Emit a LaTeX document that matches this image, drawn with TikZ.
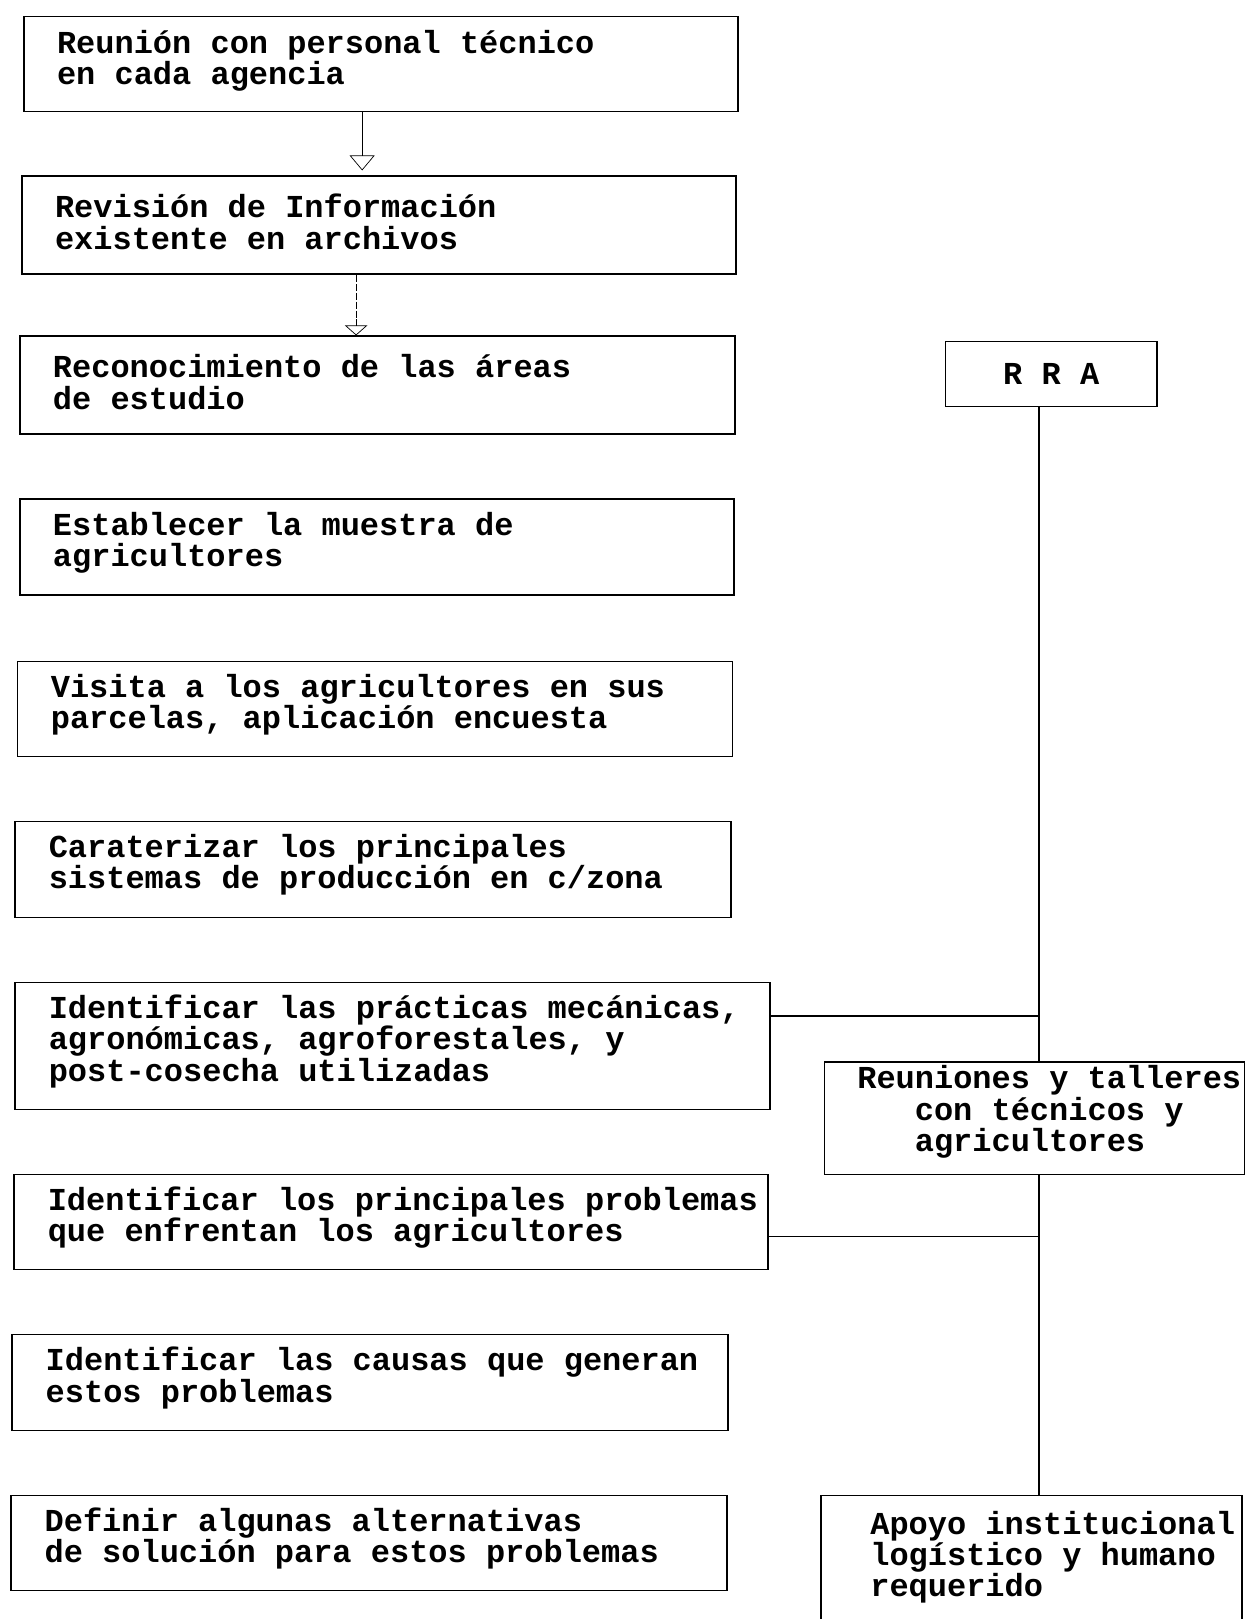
\documentclass[tikz,border=0pt]{standalone}
\usepackage{fontspec}
\setmonofont{Liberation Mono}
\usetikzlibrary{positioning,arrows.meta}

\begin{document}
\begin{tikzpicture}[
    caja/.style={draw, line width=1.1pt, anchor=north west, inner sep=0pt},
    texto/.style={inner sep=0pt, align=left, font=\ttfamily\bfseries\fontsize{18.2}{17.9}\selectfont},
    linea/.style={line width=1.6pt},
    union/.style={line width=0.9pt},
    flecha/.style={thin, shorten >=0.1cm, -{Triangle[open,length=0.3cm,width=0.5cm]}},
    flechab/.style={thin, dash pattern=on 4pt off 1pt, -{Triangle[open,length=0.2cm,width=0.45cm]}}
]
    \useasboundingbox (0,0) rectangle (24.94,-32.38);
    \clip (0,0) rectangle (24.94,-32.38);

    \node[caja, minimum width=14.28cm, minimum height=1.90cm] (b1) at (0.454,-0.310) {};
    \node[caja, minimum width=14.28cm, minimum height=1.96cm] (b2) at (0.413,-3.509) {};
    \node[caja, minimum width=14.30cm, minimum height=1.96cm] (b3) at (0.372,-6.708) {};
    \node[caja, minimum width=14.28cm, minimum height=1.92cm] (b4) at (0.372,-9.969) {};
    \node[caja, minimum width=14.30cm, minimum height=1.90cm] (b5) at (0.330,-13.21) {};
    \node[caja, minimum width=14.32cm, minimum height=1.92cm] (b6) at (0.289,-16.41) {};
    \node[caja, minimum width=15.09cm, minimum height=2.54cm] (b7) at (0.289,-19.63) {};
    \node[caja, minimum width=15.07cm, minimum height=1.90cm] (b8) at (0.268,-23.47) {};
    \node[caja, minimum width=14.32cm, minimum height=1.92cm] (b9) at (0.227,-26.67) {};
    \node[caja, minimum width=14.32cm, minimum height=1.90cm] (b10) at (0.206,-29.89) {};

    \node[texto, right=0.68cm of b1.west, yshift=0.06cm] (t1) {Reunión con personal técnico\\en cada agencia};
    \node[texto, right=0.68cm of b2.west, yshift=0.07cm] (t2) {Revisión de Información\\existente en archivos};
    \node[texto, right=0.68cm of b3.west, yshift=0.07cm] (t3) {Reconocimiento de las áreas\\de estudio};
    \node[texto, right=0.68cm of b4.west, yshift=0.09cm] (t4) {Establecer la muestra de\\agricultores};
    \node[texto, right=0.68cm of b5.west, yshift=0.09cm] (t5) {Visita a los agricultores en sus\\parcelas, aplicación encuesta};
    \node[texto, right=0.68cm of b6.west, yshift=0.09cm] (t6) {Caraterizar los principales\\sistemas de producción en c/zona};
    \node[texto, right=0.68cm of b7.west, yshift=0.09cm] (t7) {Identificar las prácticas mecánicas,\\agronómicas, agroforestales, y\\post-cosecha utilizadas};
    \node[texto, right=0.68cm of b8.west, yshift=0.09cm] (t8) {Identificar los principales problemas\\que enfrentan los agricultores};
    \node[texto, right=0.68cm of b9.west, yshift=0.09cm] (t9) {Identificar las causas que generan\\estos problemas};
    \node[texto, right=0.68cm of b10.west, yshift=0.09cm] (t10) {Definir algunas alternativas\\de solución para estos problemas};

    \node[caja, texto, draw, line width=1.1pt, minimum width=4.23cm, minimum height=1.30cm, anchor=north west] (rra) at (18.89,-6.811) {R R A};
    \node[caja, minimum width=8.40cm, minimum height=2.25cm] (reu) at (16.47,-21.22) {};
    \node[caja, minimum width=8.42cm, minimum height=3.20cm] (apo) at (16.40,-29.89) {};
    \node[texto, right=0.67cm of reu.west, yshift=0.12cm] (treu) {Reuniones y talleres\\\hspace*{1.15cm}con técnicos y\\\hspace*{1.15cm}agricultores};
    \node[texto, below right=0.32cm and 1.0cm of apo.north west] (tapo) {Apoyo institucional\\logístico y humano\\requerido};

    \draw[flecha] ([xshift=-0.37cm]b1.south) -- ([xshift=-0.37cm]b1.south |- b2.north);
    \draw[flechab] ([xshift=-0.45cm]b2.south) -- ([xshift=-0.45cm]b2.south |- b3.north);

    \draw[linea] ([xshift=0.09cm]rra.south -| reu.north) -- ([xshift=0.09cm]reu.north);
    \draw[linea] ([xshift=0.09cm]reu.south) -- ([xshift=0.09cm]reu.south |- apo.north);
    \coordinate (j7) at (20.76,-20.32);
    \coordinate (j8) at (20.76,-24.73);
    \draw[union] (j7 -| b7.east) -- (j7);
    \draw[union] (j8 -| b8.east) -- (j8);
\end{tikzpicture}
\end{document}
